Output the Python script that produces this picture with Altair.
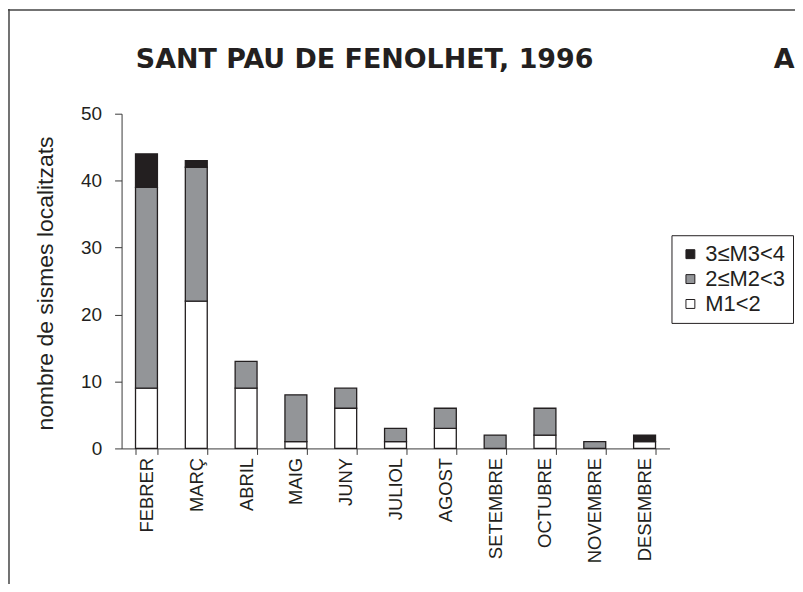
import altair as alt
import pandas as pd

months = ["FEBRER", "MARÇ", "ABRIL", "MAIG", "JUNY", "JULIOL", "AGOST",
          "SETEMBRE", "OCTUBRE", "NOVEMBRE", "DESEMBRE"]
m1 = [9, 22, 9, 1, 6, 1, 3, 0, 2, 0, 1]
m2 = [30, 20, 4, 7, 3, 2, 3, 2, 4, 1, 0]
m3 = [5, 1, 0, 0, 0, 0, 0, 0, 0, 0, 1]
classes = ["M1<2", "2≤M2<3", "3≤M3<4"]
class_colors = ["#ffffff", "#939598", "#231f20"]
y_ticks = [0, 10, 20, 30, 40, 50]

rows = []
for i, mo in enumerate(months):
    for k, (cls, vals) in enumerate(zip(classes, [m1, m2, m3])):
        if vals[i] > 0:
            rows.append({"mes": mo, "classe": cls, "n": vals[i], "ord": k})
df = pd.DataFrame(rows)

INK = "#231f20"
AX = "#3a3a3a"

bars = alt.Chart(df).mark_bar(stroke=INK, strokeWidth=1.3).encode(
    x=alt.X("mes:N", sort=months,
            scale=alt.Scale(paddingInner=0.56, paddingOuter=0.28),
            axis=alt.Axis(title=None, labelAngle=270, labelFontSize=18.5,
                          labelPadding=3, tickSize=6, tickBand="extent",
                          labelColor=INK, domainColor=AX, tickColor=AX)),
    y=alt.Y("n:Q", stack="zero",
            scale=alt.Scale(domain=[0, 50], nice=False),
            axis=alt.Axis(title="nombre de sismes localitzats", values=y_ticks,
                          grid=False, tickSize=7, labelPadding=13,
                          labelFontSize=19, labelColor=INK,
                          domainColor=AX, tickColor=AX,
                          titleFontSize=23, titleFontWeight="normal",
                          titleColor=INK, titleAngle=270,
                          titleX=-76, titleY=170,
                          titleAlign="center", titleBaseline="middle")),
    color=alt.Color("classe:N",
                    scale=alt.Scale(domain=classes[::-1], range=class_colors[::-1]),
                    legend=alt.Legend(title=None, orient="none",
                                      legendX=552, legendY=122,
                                      strokeColor=INK, padding=8,
                                      symbolType="square", symbolSize=80,
                                      symbolStrokeColor=INK, symbolStrokeWidth=1,
                                      labelFontSize=22, labelColor=INK,
                                      labelOffset=4, rowPadding=3)),
    order=alt.Order("ord:Q", sort="ascending"),
)

one = alt.Data(values=[{}])

title_text = alt.Chart(one).mark_text(
    text="SANT PAU DE FENOLHET, 1996", font="DejaVu Sans", fontWeight="bold",
    fontSize=27, color=INK, align="center", baseline="middle"
).encode(x=alt.value(244), y=alt.value(-54))

a_text = alt.Chart(one).mark_text(
    text="A", font="DejaVu Sans", fontWeight="bold",
    fontSize=27, color=INK, align="center", baseline="middle"
).encode(x=alt.value(665), y=alt.value(-54))

top_rule = alt.Chart(one).mark_rule(color="#444", strokeWidth=1.5).encode(
    x=alt.value(-114), x2=alt.value(680), y=alt.value(-104))
left_rule = alt.Chart(one).mark_rule(color="#444", strokeWidth=1.5).encode(
    x=alt.value(-113), y=alt.value(-105), y2=alt.value(480))

chart = alt.layer(bars, title_text, a_text, top_rule, left_rule).properties(
    width=550, height=336,
    autosize=alt.AutoSizeParams(type="none"),
    padding={"left": 114, "top": 105, "right": 126, "bottom": 135},
).configure(font="Liberation Sans").configure_view(strokeWidth=0)

chart.save("out.html", embed_options={"renderer": "svg", "actions": False})
